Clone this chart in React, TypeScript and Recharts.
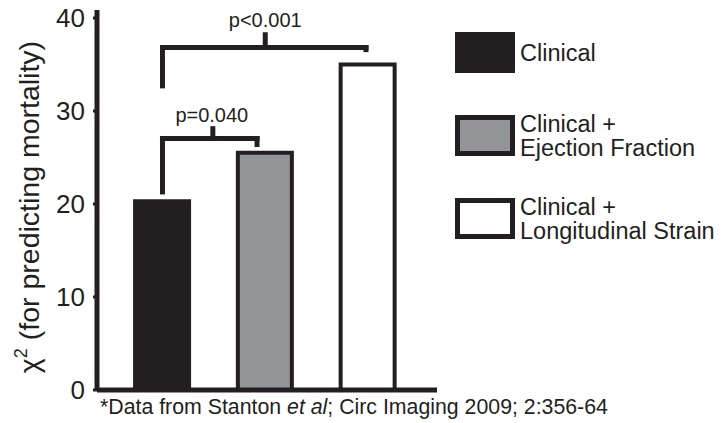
import React from 'react';
import { BarChart, Bar, XAxis, YAxis, Cell, ReferenceLine, ReferenceDot, Legend } from 'recharts';

const categories = ['Clinical', 'Clinical + Ejection Fraction', 'Clinical + Longitudinal Strain'];
const legendLines = [['Clinical'], ['Clinical +', 'Ejection Fraction'], ['Clinical +', 'Longitudinal Strain']];
const chiSquare = [20.3, 25.5, 35.0];
const barColors = ['#231f20', '#939598', '#ffffff'];
const yTicks = [0, 10, 20, 30, 40];

// brackets in data coordinates: [x1, y1, x2, y2]
const bracketA = [
  [0, 21.3, 0, 27.04],
  [0, 27.04, 0.92, 27.04],
  [0.92, 27.04, 0.92, 26.4],
  [0.49, 27.04, 0.49, 28.1],
];
const bracketB = [
  [0, 32.7, 0, 36.83],
  [0, 36.83, 1.98, 36.83],
  [1.98, 36.83, 1.98, 36.6],
  [1.0, 36.83, 1.0, 38.2],
];
const pLabels = [
  { x: 0.48, y: 29.62, text: 'p=0.040' },
  { x: 1.0, y: 39.78, text: 'p<0.001' },
];

const INK = '#231f20';
const FONT = '"Liberation Sans", Arial, Helvetica, sans-serif';

const data = categories.map((c, i) => ({ x: i, name: c, value: chiSquare[i] }));

const YLabel = () => (
  <text
    x={39}
    y={207}
    transform="rotate(-90 39 207)"
    textAnchor="middle"
    fontSize={28.5}
    fill={INK}
    fontFamily={FONT}
  >
    <tspan>χ</tspan>
    <tspan fontSize={18} dy={-12}>2</tspan>
    <tspan dy={12}> (for predicting mortality)</tspan>
  </text>
);

const Footnote = () => (
  <text x={100} y={414} fontSize={21.3} fill={INK} fontFamily={FONT}>
    <tspan>*Data from Stanton </tspan>
    <tspan fontStyle="italic">et al</tspan>
    <tspan>; Circ Imaging 2009; 2:356-64</tspan>
  </text>
);

const renderLegend = () => (
  <div style={{ fontFamily: FONT, color: INK }}>
    {legendLines.map((lines, i) => (
      <div
        key={i}
        style={{ display: 'flex', alignItems: 'center', height: 41, marginBottom: i < 2 ? 42 : 0 }}
      >
        <div
          style={{
            width: 60,
            height: 41,
            boxSizing: 'border-box',
            background: barColors[i],
            border: `5px solid ${INK}`,
            flex: 'none',
          }}
        />
        <div style={{ marginLeft: 5, fontSize: 23.5, lineHeight: '24px', whiteSpace: 'nowrap' }}>
          {lines.map((l, j) => (
            <div key={j}>{l}</div>
          ))}
        </div>
      </div>
    ))}
  </div>
);

export default function App() {
  return (
    <div style={{ position: 'absolute', left: 0, top: 0, width: 722, height: 423, background: '#fff', fontFamily: FONT, overflow: 'hidden' }}>
      <BarChart width={722} height={423} data={data} margin={{ top: 10, right: 285, bottom: 0, left: 0 }}>
        <XAxis
          dataKey="x"
          type="number"
          domain={[-0.637, 2.671]}
          ticks={[]}
          tick={false}
          tickLine={false}
          axisLine={{ stroke: INK, strokeWidth: 5 }}
          height={33}
          allowDataOverflow
          label={<Footnote />}
        />
        <YAxis
          type="number"
          domain={[0, 40.86]}
          ticks={yTicks}
          allowDataOverflow
          width={97}
          tickSize={4}
          tickMargin={8}
          tick={{ fontSize: 26, fill: INK, fontFamily: FONT }}
          axisLine={{ stroke: INK, strokeWidth: 5 }}
          tickLine={{ stroke: INK, strokeWidth: 3 }}
          label={<YLabel />}
        />
        <Legend
          layout="vertical"
          align="center"
          verticalAlign="middle"
          content={renderLegend}
          wrapperStyle={{ position: 'absolute', left: 455, top: 32, width: 267, height: 230 }}
        />
        <Bar dataKey="value" barSize={54} stroke={INK} strokeWidth={4} isAnimationActive={false}>
          {data.map((d, i) => (
            <Cell key={d.name} fill={barColors[i]} />
          ))}
        </Bar>
        {[...bracketA, ...bracketB].map((s, i) => (
          <ReferenceLine
            key={`br${i}`}
            segment={[{ x: s[0], y: s[1] }, { x: s[2], y: s[3] }]}
            stroke={INK}
            strokeWidth={5}
            strokeLinecap="square"
          />
        ))}
        {pLabels.map((p) => (
          <ReferenceDot
            key={p.text}
            x={p.x}
            y={p.y}
            r={1}
            fill="none"
            stroke="none"
            label={{ value: p.text, position: 'center', fontSize: 20, fill: INK, fontFamily: FONT }}
          />
        ))}
      </BarChart>
    </div>
  );
}
